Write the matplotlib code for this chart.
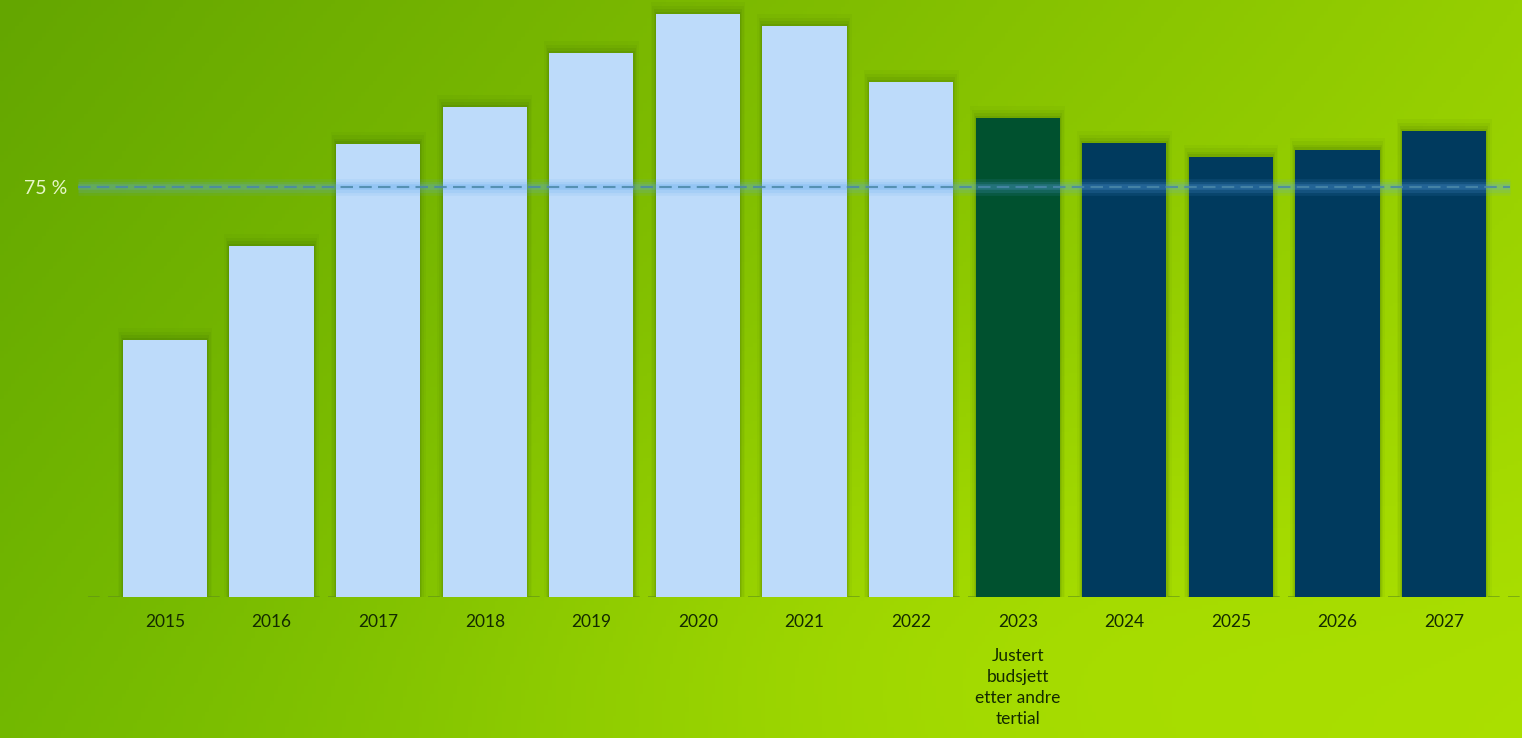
import numpy as np
import matplotlib
matplotlib.use("Agg")
import matplotlib.pyplot as plt

# data (share, %)
years = ["2015", "2016", "2017", "2018", "2019", "2020", "2021",
         "2022", "2023", "2024", "2025", "2026", "2027"]
values = [47.0, 64.2, 82.9, 89.6, 99.5, 106.6, 104.4,
          94.2, 87.6, 83.0, 80.5, 81.8, 85.2]
kind = ["hist"] * 8 + ["adj"] + ["plan"] * 4
target = 75
note_2023 = "Justert\nbudsjett\netter andre\ntertial"

colors = {"hist": "#bddbfa", "adj": "#00512f", "plan": "#003a5e"}

plt.rcParams['font.family'] = ['Lato', 'DejaVu Sans']

fig = plt.figure(figsize=(15.22, 7.38), dpi=100)

# gradient background
bg = fig.add_axes([0, 0, 1, 1])
h, w = 200, 400
yy, xx = np.mgrid[0:1:h*1j, 0:1:w*1j]  # yy=0 top
tl = np.array([0x64, 0xa6, 0x00]) / 255
tr = np.array([0x96, 0xcf, 0x00]) / 255
bl = np.array([0x72, 0xb8, 0x00]) / 255
br = np.array([0xa6, 0xdc, 0x00]) / 255
img = (tl * ((1 - xx) * (1 - yy))[..., None] + tr * (xx * (1 - yy))[..., None]
       + bl * ((1 - xx) * yy)[..., None] + br * (xx * yy)[..., None])
glow = np.exp(-(((xx - 0.62) / 0.35) ** 2 + ((yy - 0.85) / 0.4) ** 2))
img = img + glow[..., None] * np.array([0.07, 0.05, 0.0])
img = np.clip(img, 0, 1)
bg.imshow(img, aspect="auto", extent=[0, 1, 0, 1])
bg.axis("off")

ax = fig.add_axes([78 / 1522, 141 / 738, 1444 / 1522, 597 / 738])
ax.patch.set_alpha(0)
x = np.arange(len(years))
ax.set_xlim(-0.816, 12.73)
ax.set_ylim(0, 109.2)

# soft shadows behind bars
for i, v in enumerate(values):
    for k, a in [(0.10, 0.04), (0.07, 0.06), (0.04, 0.08), (0.02, 0.1)]:
        ax.add_patch(plt.Rectangle((i - 0.395 - k * 0.5, 0), 0.79 + k * 1.0, v + k * 22,
                                   color="#264d00", alpha=a, lw=0, zorder=1))

ax.bar(x, values, width=0.79, color=[colors[k] for k in kind], zorder=2)

# 75 % target line with glow
line_x = [-0.816, 12.62]
for lw, a in [(12, 0.10), (8, 0.14), (4, 0.22)]:
    ax.plot(line_x, [target, target], color="#5aa8ee", lw=lw, alpha=a,
            zorder=3, solid_capstyle="butt")
ax.plot(line_x, [target, target], color="#4a88a8", lw=1.5, ls=(0, (6, 3)),
        alpha=0.85, zorder=4)

# baseline
ax.plot([-0.72, 12.73], [0, 0], color="#5e8f1a", lw=1.2, ls=(0, (7, 5)),
        alpha=0.7, zorder=1)

ax.set_xticks(x)
ax.set_xticklabels(years, fontsize=12.5, color="#132a00")
ax.set_yticks([target])
ax.set_yticklabels(["75 %"], fontsize=14, color="#e6f7c8")
ax.tick_params(length=0, axis="x", pad=12)
ax.tick_params(length=0, axis="y", pad=8)
for s in ax.spines.values():
    s.set_visible(False)

ax.text(8, -9.3, note_2023, ha="center", va="top", fontsize=12.5,
        color="#132a00", linespacing=1.4, transform=ax.transData, clip_on=False)

fig.savefig("out.png", dpi=100)
